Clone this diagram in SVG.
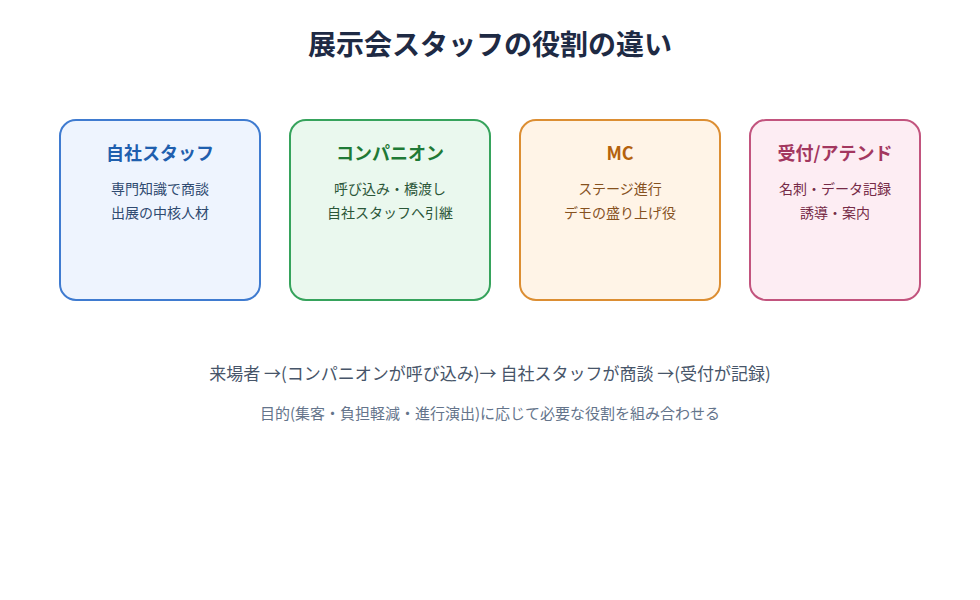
<svg xmlns="http://www.w3.org/2000/svg" width="980" height="600" viewBox="0 0 980 600">
<style>
text { font-family: "Noto Sans CJK JP", "Noto Sans", sans-serif; text-anchor: middle; }
.title { font-size: 28px; font-weight: 700; fill: #1e2a44; }
.card { stroke-width: 2; }
.ct { font-size: 18px; font-weight: 700; }
.cb { font-size: 14px; }
.flow { font-size: 17px; fill: #475569; }
.note { font-size: 15px; fill: #64748b; }
</style>
<rect width="980" height="600" fill="#ffffff"/>
<text class="title" x="490" y="55">展示会スタッフの役割の違い</text>
<g id="connectors"></g>
<g id="node-staff">
<rect class="card" x="60" y="120" width="200" height="180" rx="16" fill="#eef4fe" stroke="#3f7bd0"/>
<text class="ct" x="160" y="160" fill="#1f5fae">自社スタッフ</text>
<text class="cb" x="160" y="194" fill="#2f4a70">専門知識で商談</text>
<text class="cb" x="160" y="218" fill="#2f4a70">出展の中核人材</text>
</g>
<g id="node-companion">
<rect class="card" x="290" y="120" width="200" height="180" rx="16" fill="#eaf8ee" stroke="#36a35c"/>
<text class="ct" x="390" y="160" fill="#1f7a36">コンパニオン</text>
<text class="cb" x="390" y="194" fill="#2a5638">呼び込み・橋渡し</text>
<text class="cb" x="390" y="218" fill="#2a5638">自社スタッフへ引継</text>
</g>
<g id="node-mc">
<rect class="card" x="520" y="120" width="200" height="180" rx="16" fill="#fff4e7" stroke="#dc8e33"/>
<text class="ct" x="620" y="160" fill="#b4620e">MC</text>
<text class="cb" x="620" y="194" fill="#86511e">ステージ進行</text>
<text class="cb" x="620" y="218" fill="#86511e">デモの盛り上げ役</text>
</g>
<g id="node-reception">
<rect class="card" x="750" y="120" width="170" height="180" rx="16" fill="#fdedf3" stroke="#c2547e"/>
<text class="ct" x="835" y="160" fill="#a3375f">受付/アテンド</text>
<text class="cb" x="835" y="194" fill="#762b47">名刺・データ記録</text>
<text class="cb" x="835" y="218" fill="#762b47">誘導・案内</text>
</g>
<text class="flow" x="490" y="380">来場者 →(コンパニオンが呼び込み)→ 自社スタッフが商談 →(受付が記録)</text>
<text class="note" x="490" y="419">目的(集客・負担軽減・進行演出)に応じて必要な役割を組み合わせる</text>
</svg>
